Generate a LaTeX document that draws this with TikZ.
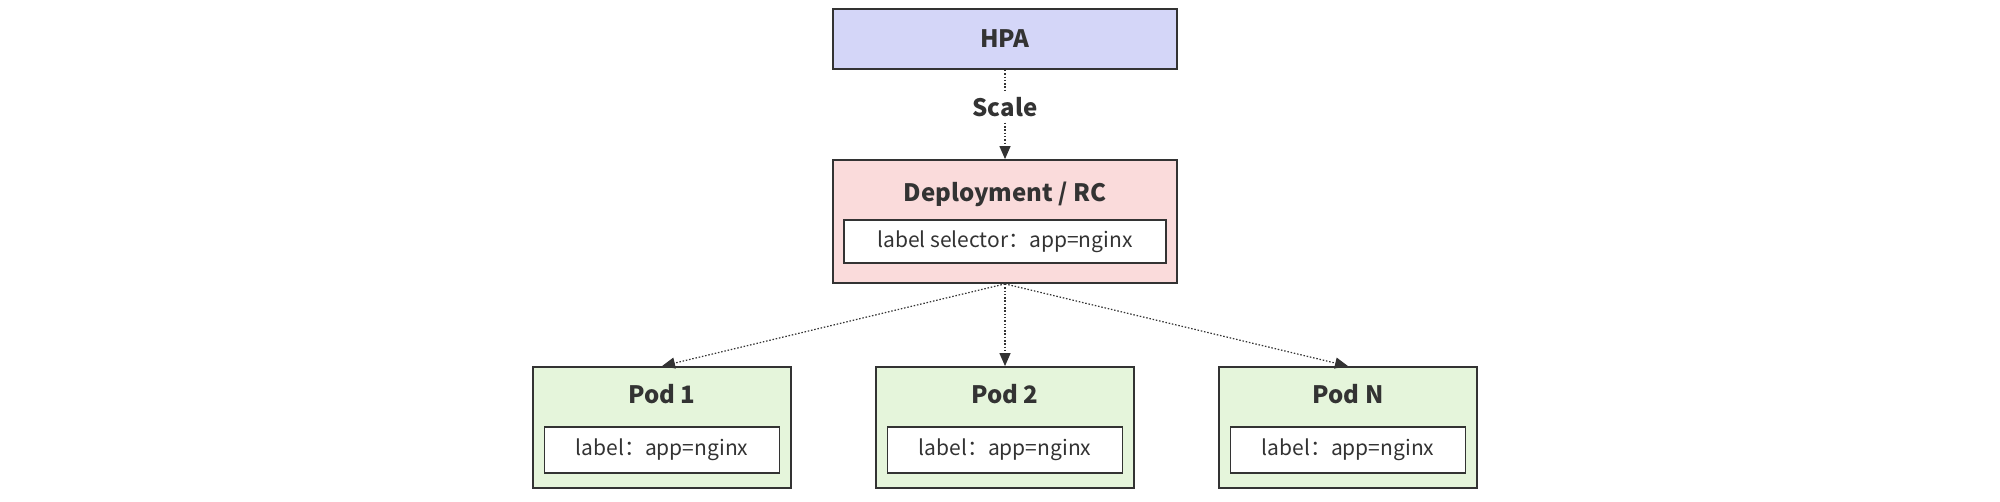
\documentclass[tikz,border=0pt]{standalone}
\usepackage{fontspec}
\setmainfont{Noto Sans CJK SC}
\usetikzlibrary{arrows.meta}
\definecolor{ink}{HTML}{333333}
\definecolor{hpafill}{HTML}{D4D6F8}
\definecolor{depfill}{HTML}{FADBDB}
\definecolor{podfill}{HTML}{E5F5DB}
\tikzset{
  box/.style={draw=ink, line width=1.8pt, rectangle, inner sep=0pt},
  titletext/.style={text=ink, font=\fontsize{24}{28}\selectfont\bfseries, inner sep=0pt},
  inbox/.style={box, fill=white, line width=1.6pt, font=\fontsize{21}{25}\selectfont, text=ink},
  conn/.style={draw=ink, line width=1.2pt, dash pattern=on 1.5pt off 1.8pt, -{Triangle[length=13pt,width=11pt]}},
}
\begin{document}
\begin{tikzpicture}[x=1pt,y=1pt]
\useasboundingbox (0,0) rectangle (2000,-501);
% HPA
\node[box, fill=hpafill, minimum width=344, minimum height=60, titletext] (hpa) at (1005,-39) {HPA};
% Deployment
\node[box, fill=depfill, minimum width=344, minimum height=123] (dep) at (1005,-221.5) {};
\node[titletext] (deptitle) at (1005,-194) {Deployment / RC};
\node[inbox, minimum width=322, minimum height=43] (depsel) at (1005,-241.5) {label selector：app=nginx};
% Pods
\foreach \name/\x/\t in {pa/662/Pod 1, pb/1005/Pod 2, pn/1348/Pod N}{
  \node[box, fill=podfill, minimum width=258, minimum height=121] (\name) at (\x,-427.5) {};
  \node[titletext] (\name t) at (\x,-394) {\t};
  \node[inbox, minimum width=235, minimum height=46] (\name l) at (\x,-450) {label：app=nginx};
}
% connectors
\draw[conn] (hpa.south) -- node[pos=0.42, fill=white, titletext, inner sep=5pt] (scale) {Scale} (dep.north);
\draw[conn] (dep.south) -- (pa.north);
\draw[conn] (dep.south) -- (pb.north);
\draw[conn] (dep.south) -- (pn.north);
\end{tikzpicture}
\end{document}
